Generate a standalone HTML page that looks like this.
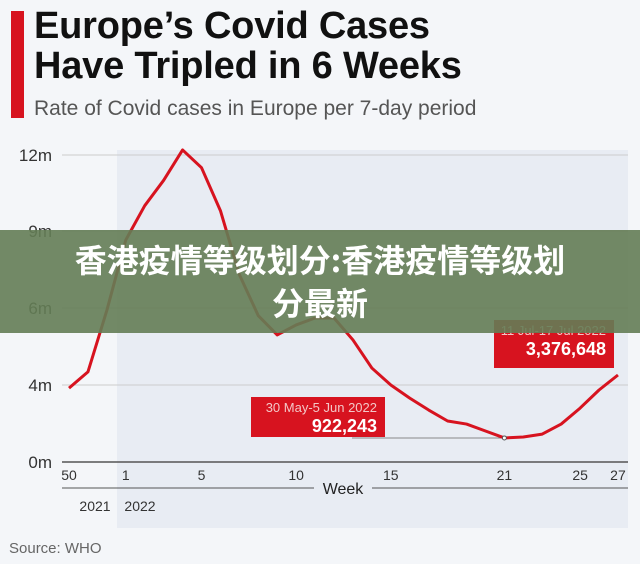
<!DOCTYPE html>
<html><head><meta charset="utf-8"><style>
body{margin:0;width:640px;height:564px;background:#f4f6f9;font-family:"Liberation Sans","Noto Sans CJK SC",sans-serif;overflow:hidden;position:relative}
.t{position:absolute;left:34px;font-weight:bold;font-size:38px;color:#111;line-height:40px;letter-spacing:-0.2px}
</style></head><body>
<div style="position:absolute;left:11px;top:11px;width:13px;height:107px;background:#d7131f"></div>
<div class="t" style="top:6px">Europe’s Covid Cases<br>Have Tripled in 6 Weeks</div>
<div style="position:absolute;left:34px;top:97px;font-size:21px;color:#555">Rate of Covid cases in Europe per 7-day period</div>
<svg id="chart" width="640" height="564" style="position:absolute;left:0;top:0"></svg>
<div style="position:absolute;left:9px;top:540px;font-size:15px;color:#666">Source: WHO</div>
<div style="position:absolute;left:0;top:230px;width:640px;height:103px;background:rgba(100,125,85,0.9);color:#fff;font-weight:bold;font-size:32px;text-align:center;line-height:43px;padding-top:8px;box-sizing:border-box;font-family:'Noto Sans CJK SC',sans-serif">香港疫情等级划分:香港疫情等级划<br>分最新</div>
<script>
const weeks=["50","51","52","1","2","3","4","5","6","7","8","9","10","11","12","13","14","15","16","17","18","19","20","21","22","23","24","25","26","27"];
const cases=[3.84,4.34,5.94,8.65,10.0,11.0,12.2,11.5,9.8,7.3,5.8,5.3,5.56,5.74,5.74,5.17,4.44,4.0,3.32,2.7,2.13,1.97,1.61,1.25,1.3,1.45,1.97,2.8,3.74,4.26];
const yTicks=[0,4,6,9,12];
const yTickLabels=["0m","4m","6m","9m","12m"];
const xTickLabels=["50","1","5","10","15","21","25","27"];
const NS="http://www.w3.org/2000/svg",svg=document.getElementById('chart');
const x0=69,dx=18.93;
const x=i=>x0+i*dx;
const yPix=[462,385,308,231,155];
function y(v){for(let k=0;k<yTicks.length-1;k++){if(v<=yTicks[k+1]||k==yTicks.length-2){const a=yTicks[k],b=yTicks[k+1];return yPix[k]+(v-a)/(b-a)*(yPix[k+1]-yPix[k]);}}}
function el(t,a,p){const e=document.createElementNS(NS,t);for(const k in a)e.setAttribute(k,a[k]);(p||svg).appendChild(e);return e;}
let bg=el('rect',{x:117,y:150,width:511,height:378,fill:'#e8ecf3'});


yTicks.forEach((v,i)=>{
 let g=el('line',{x1:62,x2:628,y1:y(v),y2:y(v),stroke:v==0?'#555':'#ccc','stroke-width':v==0?1.5:1});
 
 
 let t=el('text',{x:52,y:y(v)+6,'text-anchor':'end','font-size':17,fill:'#333'});
 t.textContent=yTickLabels[i];
 
 
});
xTickLabels.forEach(l=>{
 const i=weeks.indexOf(l);
 let t=el('text',{x:x(i),y:480,'text-anchor':'middle','font-size':14,fill:'#333'});
 t.textContent=l;
 
 
});
let wl=el('line',{x1:62,x2:628,y1:488,y2:488,stroke:'#555'});


let wr=el('rect',{x:314,y:478,width:58,height:20,fill:'#e8ecf3'});


let wt=el('text',{x:343,y:494,'text-anchor':'middle','font-size':16,fill:'#222'});wt.textContent='Week';


[["2021",95],["2022",140]].forEach(([s,px])=>{let t=el('text',{x:px,y:511,'text-anchor':'middle','font-size':14,fill:'#333'});t.textContent=s;
 
 });
let ln=el('line',{x1:352,x2:x(23),y1:y(cases[23]),y2:y(cases[23]),stroke:'#888'});


let path=el('polyline',{points:cases.map((v,i)=>x(i)+','+y(v)).join(' '),fill:'none',stroke:'#d7131f','stroke-width':3,'stroke-linejoin':'round'});


let dot=el('circle',{cx:x(23),cy:y(cases[23]),r:2,fill:'#fff',stroke:'#555'});


function box(bx,by,w,h,l1,l2,name){
 let r=el('rect',{x:bx,y:by,width:w,height:h,fill:'#d7131f'});
 
 
 let a=el('text',{x:bx+w-8,y:by+15,'text-anchor':'end','font-size':13,fill:'#f3c6c6'});a.textContent=l1;
 
 
 let b=el('text',{x:bx+w-8,y:by+35,'text-anchor':'end','font-size':18,'font-weight':'bold',fill:'#fff'});b.textContent=l2;
 
 
}
box(251,397,134,40,'30 May-5 Jun 2022','922,243','min-annotation');
box(494,320,120,48,'11 Jul-17 Jul 2022','3,376,648','latest-annotation');
</script>
</body></html>
